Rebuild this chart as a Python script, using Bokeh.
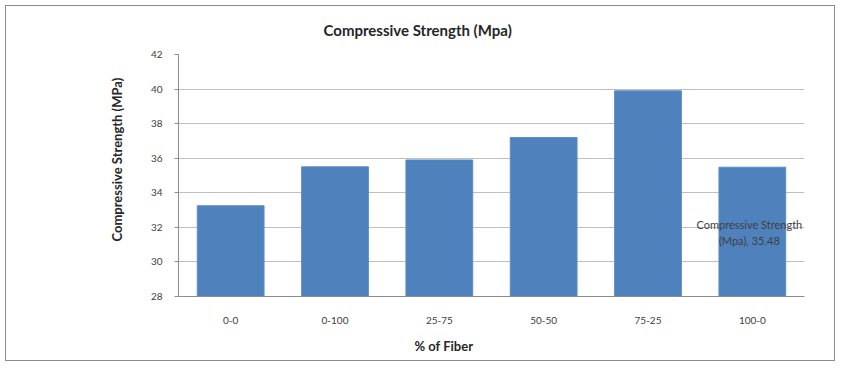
from bokeh.plotting import figure
from bokeh.models import FixedTicker, ColumnDataSource, Title
from bokeh.core.properties import value
from bokeh.embed import file_html
from bokeh.resources import INLINE

categories = ["0-0", "0-100", "25-75", "50-50", "75-25", "100-0"]
strength = [33.25, 35.5, 35.9, 37.2, 39.9, 35.48]
y_ticks = [28, 30, 32, 34, 36, 38, 40, 42]
title_text = "Compressive Strength (Mpa)"
x_title = "% of Fiber"
y_title = "Compressive Strength (MPa)"

FONT = "Lato"
TXT = "#262626"

p = figure(x_range=categories, y_range=(28, 42), width=830, height=356,
           output_backend="svg", toolbar_location=None,
           min_border_left=172, min_border_right=32,
           min_border_top=48, min_border_bottom=65)
p.margin = (5, 0, 0, 5)
p.styles = {"border": "1px solid #8c8c8c"}
p.outline_line_color = None
p.background_fill_color = "white"
p.border_fill_color = "white"

src = ColumnDataSource(dict(cat=categories, val=strength))
p.vbar(x="cat", top="val", bottom=28, width=0.64, source=src,
       fill_color="#4f81bd", line_color="#5b8cc6")

p.yaxis.ticker = FixedTicker(ticks=y_ticks)
p.ygrid.ticker = FixedTicker(ticks=y_ticks)
p.ygrid.grid_line_color = "#bfbfbf"
p.xgrid.grid_line_color = None
for ax in (p.xaxis[0], p.yaxis[0]):
    ax.axis_line_color = "#8c8c8c"
    ax.major_label_text_font = FONT
    ax.major_label_text_font_size = "10px"
    ax.major_label_text_color = "#404040"
    ax.minor_tick_line_color = None
p.yaxis.major_tick_line_color = "#8c8c8c"
p.yaxis.major_tick_out = 4
p.yaxis.major_tick_in = 0
p.yaxis.major_label_standoff = 12
p.xaxis.major_tick_line_color = None
p.xaxis.major_label_standoff = 14

# chart title and axis titles (offset so they sit where the reference has them)
p.add_layout(Title(text=title_text, align="left", offset=145, standoff=28,
                   vertical_align="top", text_font=FONT, text_font_style="bold",
                   text_font_size="15px", text_color=TXT), "above")
p.add_layout(Title(text=x_title, align="left", offset=236, standoff=18,
                   text_font=FONT, text_font_style="bold",
                   text_font_size="13px", text_color=TXT), "below")
p.add_layout(Title(text=y_title, align="left", offset=55, standoff=46,
                   text_font=FONT, text_font_style="bold",
                   text_font_size="13px", text_color=TXT), "left")

# data label on last bar
p.text(x=[categories[-1]], y=[31.7],
       text=[f"Compressive Strength\n(Mpa), {strength[-1]}"],
       text_align="center", text_baseline="middle", text_font=value(FONT),
       text_font_size="11px", text_color="#404040", text_line_height=1.3,
       x_offset=-3)

open("out.html", "w").write(file_html(p, INLINE))
